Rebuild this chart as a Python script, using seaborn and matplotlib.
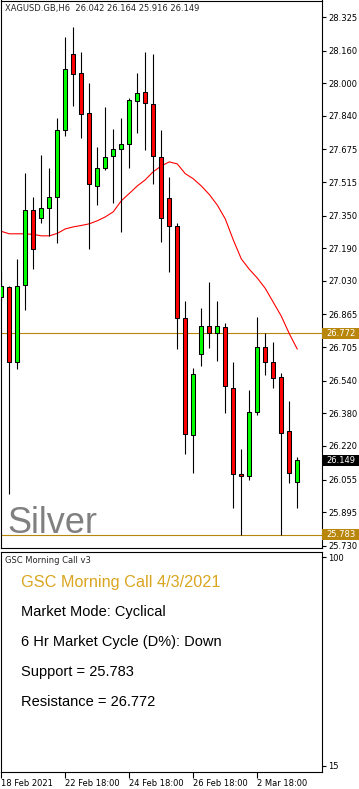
import numpy as np
import pandas as pd
import seaborn as sns
import matplotlib.pyplot as plt
import matplotlib.transforms as mtransforms
from matplotlib.patches import Rectangle

# H6 candles (oldest first)
opens = [26.949, 27.002, 26.634, 27.012, 27.376, 27.341, 27.386, 27.444, 27.768, 28.143,
         28.049, 27.856, 27.498, 27.582, 27.645, 27.679, 27.700, 27.913, 27.955, 27.899,
         27.640, 27.435, 27.297, 26.850, 26.276, 26.673, 26.810, 26.774, 26.806, 26.503,
         26.080, 26.071, 26.385, 26.705, 26.634, 26.557, 26.293, 26.042]
highs = [27.075, 27.004, 27.137, 27.558, 27.444, 27.647, 27.584, 27.827, 28.225, 28.274,
         28.151, 28.001, 27.686, 27.882, 27.773, 27.831, 27.926, 28.049, 28.151, 28.143,
         27.768, 27.538, 27.316, 26.931, 26.600, 26.896, 27.023, 26.931, 26.821, 26.634,
         26.204, 26.494, 26.852, 26.772, 26.729, 26.578, 26.441, 26.164]
lows = [26.928, 25.985, 26.596, 26.885, 27.086, 27.316, 27.248, 27.214, 27.739, 27.887,
        27.729, 27.188, 27.401, 27.572, 27.413, 27.268, 27.584, 27.756, 27.671, 27.507,
        27.219, 27.074, 26.694, 26.182, 26.085, 26.613, 26.702, 26.637, 26.382, 25.914,
        25.783, 26.054, 26.373, 26.569, 26.506, 25.783, 26.037, 25.916]
closes = [27.006, 26.634, 27.007, 27.376, 27.185, 27.389, 27.444, 27.768, 28.071, 28.044,
          27.851, 27.503, 27.582, 27.640, 27.679, 27.700, 27.916, 27.950, 27.901, 27.645,
          27.341, 27.297, 26.850, 26.279, 26.574, 26.810, 26.774, 26.810, 26.515, 26.080,
          26.071, 26.385, 26.705, 26.634, 26.555, 26.284, 26.085, 26.149]
# moving average (red line)
ma_values = [27.273, 27.261, 27.261, 27.261, 27.258, 27.251, 27.251, 27.263, 27.285, 27.295,
             27.302, 27.310, 27.325, 27.344, 27.369, 27.423, 27.459, 27.496, 27.526, 27.566,
             27.594, 27.614, 27.604, 27.556, 27.531, 27.496, 27.454, 27.402, 27.334, 27.231,
             27.138, 27.087, 27.044, 26.993, 26.925, 26.857, 26.771, 26.695]

price_ticks = [28.325, 28.160, 28.000, 27.840, 27.675, 27.515, 27.350, 27.190, 27.030,
               26.865, 26.705, 26.540, 26.380, 26.220, 26.055, 25.895, 25.730]
date_ticks = [0, 8, 16, 24, 32]
date_labels = ["18 Feb 2021", "22 Feb 18:00", "24 Feb 18:00", "26 Feb 18:00", "2 Mar 18:00"]

support = 25.783
resistance = 26.772
symbol = "XAGUSD.GB,H6"
panel_name = "GSC Morning Call v3"
panel_title = "GSC Morning Call 4/3/2021"
info_lines = ["Market Mode: Cyclical", "6 Hr Market Cycle (D%): Down",
              "Support = 25.783", "Resistance = 26.772"]
panel_ticks = [100, 15]

df = pd.DataFrame({"bar": np.arange(len(opens)), "open": opens, "high": highs,
                   "low": lows, "close": closes, "ma": ma_values})
df["up"] = df["close"] >= df["open"]

sns.set_style("white")
plt.rcParams["font.family"] = ["DejaVu Sans"]

W, H = 359, 789
fig = plt.figure(figsize=(W / 100, H / 100), dpi=100)
fig.patch.set_facecolor("white")


def px_axes(left, top, right, bottom, **kw):
    return fig.add_axes([left / W, 1 - bottom / H, (right - left) / W, (bottom - top) / H], **kw)


ax = px_axes(0.5, 0.5, 322, 548)
ax2 = px_axes(0.5, 551.5, 322, 772, sharex=ax)

gold = "#B8860B"

# candles
ax.vlines(df["bar"], df["low"], df["high"], color="black", linewidth=0.8, zorder=2)
ax.bar(df["bar"], (df["close"] - df["open"]).abs().clip(lower=0.004),
       bottom=df[["open", "close"]].min(axis=1), width=0.5,
       color=np.where(df["up"], "#00FF00", "#FF0000"),
       edgecolor="black", linewidth=0.75, zorder=3)
sns.lineplot(data=df, x="bar", y="ma", ax=ax, color="red", linewidth=0.8, zorder=1.5)

ax.axhline(support, color=gold, linewidth=0.8, zorder=1)
ax.axhline(resistance, color=gold, linewidth=0.8, zorder=1)

ax.set_xlim(-0.1, 40.09)
ax.set_ylim(25.719, 28.406)
ax.set_xlabel("")
ax.set_ylabel("")
ax.yaxis.tick_right()
ax.set_yticks(price_ticks)
ax.set_yticklabels([f"{v:.3f}" for v in price_ticks])
ax.tick_params(axis="y", right=True, left=False, labelright=True, labelleft=False,
               direction="out", length=3, width=0.8, pad=1.5, labelsize=6, colors="black")
ax.tick_params(axis="x", bottom=False, labelbottom=False)

# price labels on the right scale
blend = mtransforms.blended_transform_factory(ax.transAxes, ax.transData)
for price, bg in [(resistance, gold), (closes[-1], "black"), (support, gold)]:
    half = 5.5 / 203.7
    ax.add_patch(Rectangle((1.0, price - half), 37 / 321.5, 2 * half, transform=blend,
                           facecolor=bg, edgecolor="none", clip_on=False, zorder=5))
    ax.text(1.0 + 4 / 321.5, price, f"{price:.3f}", transform=blend, color="white",
            fontsize=6, va="center", ha="left", clip_on=False, zorder=6)

ax.text(6.5 / 321.5, 25.783 + 2.3 / 203.7, "Silver", transform=blend, fontsize=26,
        color="#808080", family=["Liberation Sans"], va="baseline", ha="left")

# indicator panel
ax2.set_ylim(12.4, 102.4)
ax2.yaxis.tick_right()
ax2.set_yticks(panel_ticks)
ax2.set_yticklabels([str(v) for v in panel_ticks])
ax2.tick_params(axis="y", right=True, left=False, labelright=True, labelleft=False,
                direction="out", length=3, width=0.8, pad=1.5, labelsize=6, colors="black")
ax2.set_xticks(date_ticks)
ax2.set_xticklabels(date_labels)
ax2.tick_params(axis="x", bottom=True, labelbottom=True, direction="out", length=4,
                width=0.8, pad=1, labelsize=6, colors="black")
for lbl in ax2.get_xticklabels():
    lbl.set_ha("left")

for a in (ax, ax2):
    for s in a.spines.values():
        s.set_color("black")
        s.set_linewidth(0.8)
        s.set_visible(True)
    a.set_facecolor("white")

fig.text(5 / W, 1 - 11.3 / H,
         f"{symbol}  {opens[-1]:.3f} {highs[-1]:.3f} {lows[-1]:.3f} {closes[-1]:.3f}",
         fontsize=6, va="baseline", ha="left")
fig.text(5 / W, 1 - 563.3 / H, panel_name, fontsize=6, va="baseline", ha="left")
fig.text(21 / W, 1 - 586.7 / H, panel_title, fontsize=11.7, color="#DAA520",
         family=["Liberation Sans"], va="baseline", ha="left")
for i, line in enumerate(info_lines):
    fig.text(21 / W, 1 - (616 + 30 * i) / H, line, fontsize=10.5, color="black",
             family=["Liberation Sans"], va="baseline", ha="left")

fig.savefig("out.png", dpi=100)
